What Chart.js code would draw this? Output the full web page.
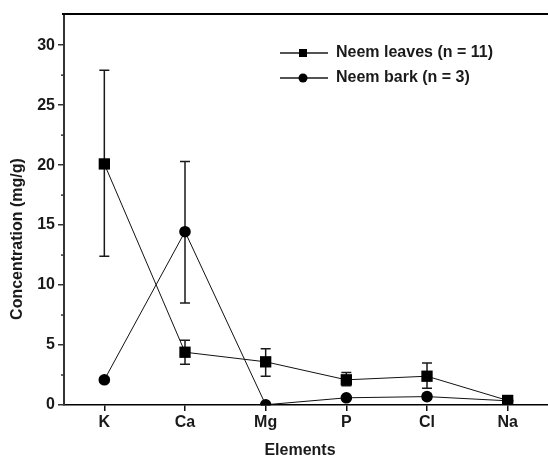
<!DOCTYPE html>
<html>
<head>
<meta charset="utf-8">
<script src="https://cdn.jsdelivr.net/npm/chart.js@4.4.1/dist/chart.umd.min.js"></script>
<style>
  html, body { margin: 0; padding: 0; background: #fff; overflow: hidden; }
  #wrap { width: 548px; height: 459px; overflow: hidden; }
</style>
</head>
<body>
<div id="wrap"><canvas id="chart" width="556" height="459"></canvas></div>
<script>
// data (mg/g)
const elements = ['K', 'Ca', 'Mg', 'P', 'Cl', 'Na'];
const leavesMean = [20.1, 4.4, 3.6, 2.1, 2.4, 0.38];
const leavesLow = [12.4, 3.4, 2.4, 1.6, 1.4, 0.3];
const leavesHigh = [27.9, 5.4, 4.7, 2.7, 3.5, 0.45];
const barkMean = [2.1, 14.45, 0.02, 0.6, 0.7, 0.35];
const barkLow = [1.9, 8.5, 0, 0.5, 0.5, 0.3];
const barkHigh = [2.3, 20.3, 0.05, 0.7, 0.9, 0.4];
const yTicks = [0, 5, 10, 15, 20, 25, 30];
const yMinorTicks = [2.5, 7.5, 12.5, 17.5, 22.5, 27.5];
const yMax = 32.6;

const FONT = "'Liberation Sans', Arial, Helvetica, sans-serif";
const INK = '#1a1a1a';

// vertical error bars with caps, drawn under the markers
const errorBars = {
    id: 'errorBars',
    beforeDatasetsDraw(chart) {
        const ctx = chart.ctx, xs = chart.scales.x, ys = chart.scales.y;
        ctx.save();
        ctx.strokeStyle = INK;
        ctx.lineWidth = 1.5;
        chart.data.datasets.forEach(function(ds) {
            ds.errLow.forEach(function(lo, i) {
                const px = xs.getPixelForValue(i);
                const pLo = ys.getPixelForValue(lo);
                const pHi = ys.getPixelForValue(ds.errHigh[i]);
                ctx.beginPath();
                ctx.moveTo(px, pLo); ctx.lineTo(px, pHi);
                ctx.moveTo(px - 5, pLo); ctx.lineTo(px + 5, pLo);
                ctx.moveTo(px - 5, pHi); ctx.lineTo(px + 5, pHi);
                ctx.stroke();
            });
        });
        ctx.restore();
    }
};

// top frame line, minor ticks, axis titles and the legend box
const decorations = {
    id: 'decorations',
    afterDraw(chart) {
        const ctx = chart.ctx, area = chart.chartArea, ys = chart.scales.y;
        ctx.save();
        ctx.strokeStyle = '#000';
        ctx.lineWidth = 2;
        ctx.beginPath();
        ctx.moveTo(area.left - 2, area.top);
        ctx.lineTo(chart.width, area.top);
        ctx.stroke();

        ctx.strokeStyle = '#333';
        ctx.lineWidth = 1.5;
        yMinorTicks.forEach(function(v) {
            const py = ys.getPixelForValue(v);
            ctx.beginPath();
            ctx.moveTo(area.left - 3, py);
            ctx.lineTo(area.left, py);
            ctx.stroke();
        });

        ctx.fillStyle = INK;
        ctx.font = 'bold 16px ' + FONT;
        ctx.textAlign = 'center';
        ctx.textBaseline = 'middle';
        ctx.fillText('Elements', 300, 451);
        ctx.save();
        ctx.translate(17.5, 239);
        ctx.rotate(-Math.PI / 2);
        ctx.fillText('Concentration (mg/g)', 0, 0);
        ctx.restore();

        // legend
        const items = chart.data.datasets;
        items.forEach(function(ds, i) {
            const ly = 53 + i * 25;
            ctx.strokeStyle = INK;
            ctx.lineWidth = 1.5;
            ctx.beginPath();
            ctx.moveTo(280, ly);
            ctx.lineTo(328, ly);
            ctx.stroke();
            ctx.fillStyle = '#000';
            if (ds.pointStyle === 'rect') {
                ctx.fillRect(299, ly - 4, 8, 8);
            } else {
                ctx.beginPath();
                ctx.arc(303, ly, 4.5, 0, Math.PI * 2);
                ctx.fill();
            }
            ctx.fillStyle = INK;
            ctx.textAlign = 'left';
            ctx.fillText(ds.label, 336, ly);
        });
        ctx.restore();
    }
};

const ctx = document.getElementById('chart').getContext('2d');
new Chart(ctx, {
    type: 'line',
    data: {
        labels: elements,
        datasets: [{
            label: 'Neem leaves (n = 11)',
            data: leavesMean,
            errLow: leavesLow,
            errHigh: leavesHigh,
            borderColor: '#111',
            borderWidth: 1,
            backgroundColor: '#000',
            pointStyle: 'rect',
            pointRadius: 8,
            pointBorderWidth: 0,
            clip: { left: 10, right: 10, top: 10, bottom: 0 }
        }, {
            label: 'Neem bark (n = 3)',
            data: barkMean,
            errLow: barkLow,
            errHigh: barkHigh,
            borderColor: '#111',
            borderWidth: 1,
            backgroundColor: '#000',
            pointStyle: 'circle',
            pointRadius: 5.8,
            pointBorderWidth: 0,
            clip: { left: 10, right: 10, top: 10, bottom: 0 }
        }]
    },
    options: {
        responsive: false,
        animation: false,
        devicePixelRatio: 1,
        layout: { padding: { left: 0, top: 14, right: 6, bottom: 0 } },
        plugins: {
            legend: { display: false },
            tooltip: { enabled: false }
        },
        scales: {
            x: {
                offset: true,
                afterFit: function(scale) { scale.height = 54; },
                grid: {
                    offset: false,
                    drawOnChartArea: false,
                    drawTicks: true,
                    tickLength: 6,
                    color: '#111',
                    lineWidth: 1.5
                },
                border: { display: true, color: '#000', width: 1.5 },
                ticks: {
                    padding: 2,
                    color: INK,
                    font: { family: FONT, size: 16, weight: 'bold' }
                }
            },
            y: {
                min: 0,
                max: yMax,
                afterFit: function(scale) { scale.width = 64; },
                afterBuildTicks: function(scale) {
                    scale.ticks = yTicks.map(function(v) { return { value: v }; });
                },
                grid: {
                    drawOnChartArea: false,
                    drawTicks: true,
                    tickLength: 6,
                    color: '#333',
                    lineWidth: 1.5
                },
                border: { display: true, color: '#333', width: 2 },
                ticks: {
                    padding: 3,
                    color: INK,
                    font: { family: FONT, size: 16, weight: 'bold' }
                }
            }
        }
    },
    plugins: [errorBars, decorations]
});
</script>
</body>
</html>
